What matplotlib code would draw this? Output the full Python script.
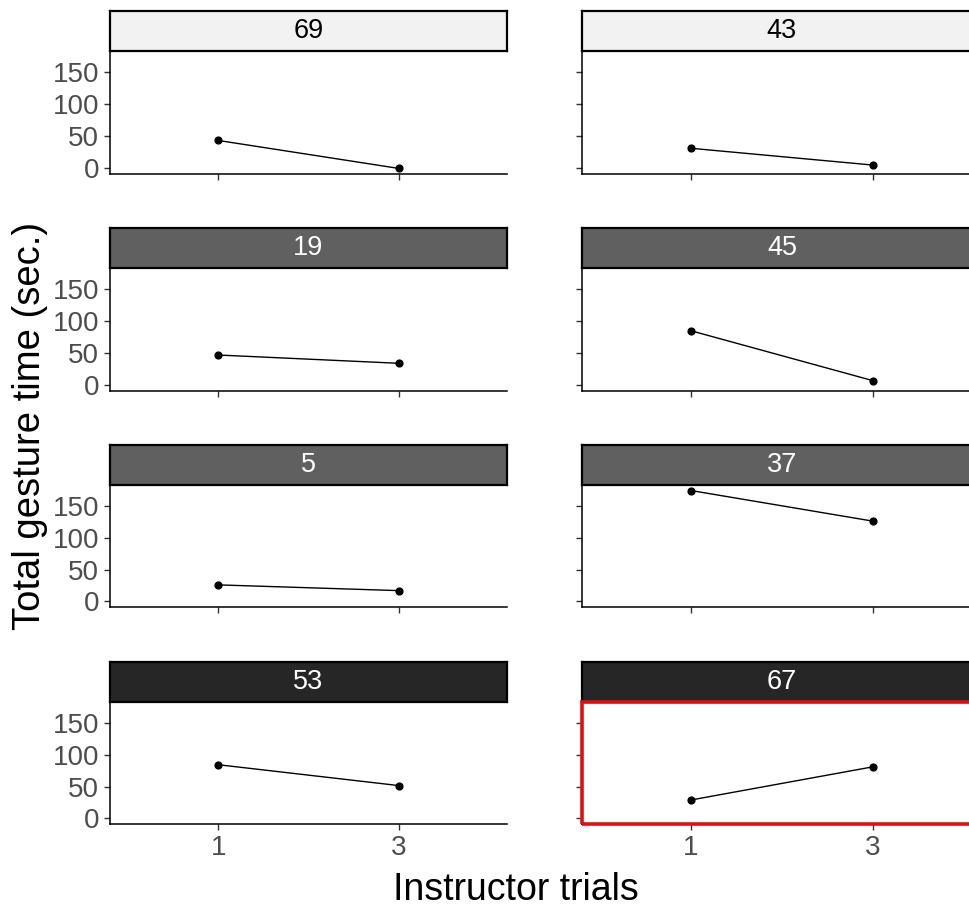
import matplotlib
matplotlib.use("Agg")
import matplotlib.pyplot as plt
from matplotlib.patches import Rectangle

plt.rcParams['font.family'] = ['Liberation Sans', 'DejaVu Sans']

# ---- data ----
panels = ["69", "43", "19", "45", "5", "37", "53", "67"]
trials = [1, 3]
values = {
    "69": [43.5, 0.0],
    "43": [31.3, 5.2],
    "19": [47.3, 34.4],
    "45": [85.0, 7.4],
    "5":  [26.0, 17.0],
    "37": [174.0, 126.0],
    "53": [84.3, 51.6],
    "67": [29.0, 81.0],
}
strip_fill = ["#F2F2F2", "#F2F2F2", "#606060", "#606060",
              "#606060", "#606060", "#262626", "#262626"]
strip_text = ["black", "black", "white", "white",
              "white", "white", "white", "white"]
highlight = "67"
y_ticks = [0, 50, 100, 150]
x_ticks = [1, 3]
x_label = "Instructor trials"
y_label = "Total gesture time (sec.)"

W, H = 970, 909
fig = plt.figure(figsize=(W / 100, H / 100), dpi=100)

col_left = [110, 582]
col_width = [397, 400]
row_top = [51, 268, 485, 702]
row_bottom = [174, 391, 607, 824]
strip_h = 40

ymin, ymax = -8.7, 182.7

for i, name in enumerate(panels):
    r, c = divmod(i, 2)
    x0 = col_left[c] / W
    w = col_width[c] / W
    y0 = 1 - row_bottom[r] / H
    h = (row_bottom[r] - row_top[r]) / H
    ax = fig.add_axes([x0, y0, w, h])
    vals = values[name]
    ax.plot(trials, vals, color="black", lw=1.0, zorder=3)
    ax.scatter(trials, vals, s=24, color="black", zorder=4)
    ax.set_xlim(-0.2, 4.2)
    ax.set_ylim(ymin, ymax)
    ax.set_xticks(x_ticks)
    ax.set_yticks(y_ticks)
    for s in ["top", "right"]:
        ax.spines[s].set_visible(False)
    for s in ["left", "bottom"]:
        ax.spines[s].set_linewidth(1.1)
        ax.spines[s].set_color("black")
    ax.tick_params(axis="both", length=4, width=1.0, color="#333333",
                   labelsize=20, labelcolor="#4D4D4D", pad=4.0)
    if c == 0:
        ax.set_yticklabels([str(t) for t in y_ticks])
    else:
        ax.set_yticklabels([])
    if r == 3:
        ax.set_xticklabels([str(t) for t in x_ticks])
    else:
        ax.set_xticklabels([])
    # strip
    sax = fig.add_axes([x0, 1 - row_top[r] / H, w, strip_h / H])
    sax.set_xticks([])
    sax.set_yticks([])
    sax.set_facecolor(strip_fill[i])
    for s in sax.spines.values():
        s.set_linewidth(1.6)
        s.set_color("black")
    sax.text(0.5, 0.5, name,
             transform=sax.transAxes, ha="center", va="center",
             fontsize=19.5, color=strip_text[i])
    if name == highlight:
        fig.add_artist(Rectangle((0, 0), 1, 1, transform=ax.transAxes,
                                 fill=False, edgecolor="#E01010", lw=2.6,
                                 clip_on=False, zorder=10))

fig.text(516 / W, 1 - 900 / H, x_label, ha="center", va="baseline",
         fontsize=27, color="black")
fig.text(30 / W, 1 - 426 / H, y_label, ha="center", va="center",
         rotation=90, fontsize=27.5, color="black")

fig.savefig("out.png", dpi=100)
